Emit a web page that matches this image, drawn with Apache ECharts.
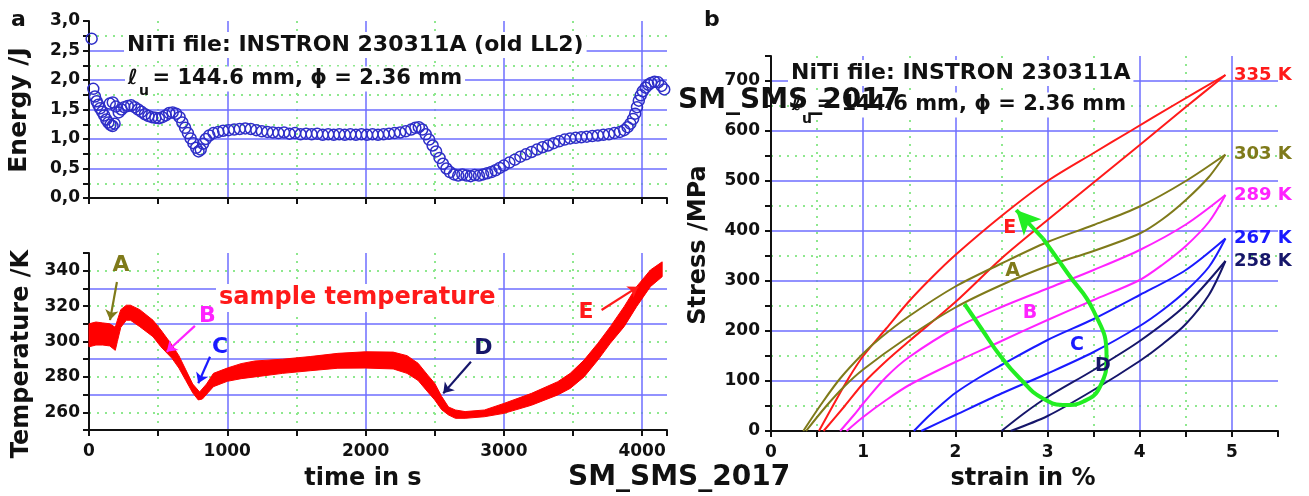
<!DOCTYPE html>
<html>
<head>
<meta charset="utf-8">
<title>NiTi INSTRON 230311A</title>
<script src="https://cdn.jsdelivr.net/npm/echarts@6/dist/echarts.min.js"></script>
<style>
  html, body { margin: 0; padding: 0; background: #fff; }
  #main { width: 1309px; height: 496px; }
</style>
</head>
<body>
<div id="main"></div>
<script type="text/javascript">
// energy per cycle, [time s, energy J]
var energy = [
  [19, 2.70], [31, 1.85], [43, 1.72], [55, 1.64], [67, 1.58], [80, 1.52], [95, 1.46], [110, 1.40],
  [125, 1.33], [140, 1.28], [155, 1.24], [170, 1.22], [185, 1.26], [150, 1.60], [172, 1.62], [195, 1.55],
  [215, 1.45], [235, 1.50], [255, 1.54], [280, 1.56], [305, 1.57], [330, 1.54], [355, 1.50], [380, 1.46],
  [405, 1.42], [430, 1.39], [455, 1.37], [480, 1.36], [505, 1.35], [530, 1.37], [555, 1.40], [580, 1.44],
  [605, 1.45], [630, 1.43], [655, 1.37], [675, 1.28], [695, 1.19], [715, 1.10], [735, 1.01], [755, 0.93],
  [775, 0.85], [792, 0.79], [808, 0.82], [825, 0.92], [845, 1.00], [870, 1.06], [900, 1.10], [935, 1.12],
  [970, 1.14], [1010, 1.15], [1050, 1.16], [1090, 1.17], [1130, 1.18], [1170, 1.17], [1210, 1.15], [1250, 1.13],
  [1290, 1.12], [1330, 1.11], [1370, 1.10], [1410, 1.11], [1450, 1.09], [1490, 1.10], [1530, 1.08], [1570, 1.09],
  [1610, 1.08], [1650, 1.09], [1690, 1.07], [1730, 1.08], [1770, 1.07], [1810, 1.08], [1850, 1.07], [1890, 1.08],
  [1930, 1.07], [1970, 1.08], [2010, 1.07], [2050, 1.08], [2090, 1.07], [2130, 1.08], [2170, 1.09], [2210, 1.10],
  [2250, 1.11], [2290, 1.13], [2330, 1.16], [2360, 1.19], [2385, 1.20], [2410, 1.16], [2435, 1.08], [2460, 0.99],
  [2485, 0.89], [2510, 0.79], [2535, 0.68], [2560, 0.58], [2585, 0.50], [2610, 0.44], [2640, 0.40], [2670, 0.38],
  [2700, 0.40], [2730, 0.38], [2760, 0.37], [2790, 0.39], [2820, 0.38], [2850, 0.40], [2880, 0.42], [2910, 0.44],
  [2940, 0.47], [2970, 0.51], [3000, 0.55], [3040, 0.60], [3080, 0.65], [3120, 0.70], [3160, 0.74], [3200, 0.78],
  [3240, 0.82], [3280, 0.86], [3320, 0.89], [3360, 0.93], [3400, 0.96], [3440, 0.99], [3480, 1.01], [3520, 1.02],
  [3560, 1.03], [3600, 1.04], [3640, 1.05], [3680, 1.06], [3720, 1.07], [3760, 1.08], [3800, 1.10], [3840, 1.12],
  [3870, 1.15], [3895, 1.20], [3915, 1.26], [3935, 1.34], [3950, 1.43], [3963, 1.54], [3976, 1.65], [3990, 1.74],
  [4005, 1.81], [4025, 1.87], [4045, 1.92], [4065, 1.95], [4090, 1.97], [4115, 1.96], [4140, 1.90], [4160, 1.84]
];

// sample temperature band (upper / lower envelope), [time s, K]
var tempUpper = [
  [0, 310], [50, 311], [100, 310.5], [150, 310], [190, 308], [205, 312], [230, 318], [270, 320.5], [300, 320.5],
  [367, 318], [463, 312], [520, 306.5], [600, 298], [650, 292], [700, 284], [750, 276], [800, 271.5], [850, 276],
  [900, 282], [1000, 285], [1100, 287.5], [1200, 289], [1400, 290], [1600, 291.5], [1800, 293.3], [2000, 294.2],
  [2200, 294], [2300, 292], [2380, 287.7], [2450, 281], [2500, 276.4], [2550, 269], [2600, 263], [2650, 261.3],
  [2720, 260.4], [2860, 261.3], [3000, 265], [3200, 270.7], [3390, 277.3], [3480, 282], [3580, 289.5], [3680, 299],
  [3770, 308.4], [3870, 319.7], [3960, 331], [4060, 340.4], [4145, 345]
];
var tempLower = [
  [0, 297], [50, 298], [100, 298], [150, 297.5], [190, 295], [205, 300], [230, 308], [270, 312], [300, 312],
  [367, 308.4], [463, 302.7], [520, 297], [600, 290.5], [650, 285], [700, 278], [750, 271], [790, 267], [820, 267.5],
  [860, 271], [900, 274.5], [1000, 277.5], [1100, 279], [1200, 280], [1400, 282], [1600, 283.5], [1800, 284.9],
  [2000, 285], [2200, 284.5], [2300, 282], [2380, 278], [2450, 271.5], [2500, 267], [2550, 261.5], [2600, 258.5],
  [2650, 256.6], [2720, 256.6], [2860, 257.5], [3000, 259.4], [3200, 264], [3390, 269.8], [3480, 273.5], [3580, 280],
  [3680, 289.5], [3770, 299], [3870, 308.4], [3960, 319.7], [4060, 331], [4145, 336.6]
];

// arrows and letters in the temperature panel
var leftLetters = ['A', 'B', 'C', 'D', 'E'];
var leftLetterPos = [[231, 343.2], [857, 314.1], [947, 296.6], [2852, 296], [3594, 316.4]];
var leftArrows = [
  [[202, 333.6], [152, 312.1]],
  [[766, 308.8], [562, 294.2]],
  [[875, 291.4], [790, 276.4]],
  [[2762, 288.6], [2562, 270.7]],
  [[3707, 317.8], [3972, 331]]
];
var letterColors = ['#7f7a1a', '#ff22ff', '#1a1aff', '#16166a', '#ff1a1a'];

// stress-strain loops, [strain %, stress MPa]
var loopNames = ['335 K', '303 K', '289 K', '267 K', '258 K'];
var loopColors = ['#ff1a1a', '#7f7a1a', '#ff22ff', '#1a1aff', '#16166a'];
var upper335 = [[0.52, 0], [0.7, 60], [0.85, 108], [1.0, 150], [1.25, 205], [1.5, 260], [1.75, 308], [2.0, 352],
  [2.5, 430], [3.0, 500], [3.5, 556], [3.9, 600], [4.4, 655], [4.93, 712]];
var lower335 = [[0.57, 0], [0.8, 50], [1.0, 95], [1.25, 140], [1.5, 180], [2.0, 258], [2.5, 345], [3.0, 422],
  [3.5, 497], [4.0, 572], [4.5, 648], [4.93, 712]];
var upper303 = [[0.35, 0], [0.55, 55], [0.75, 105], [1.0, 155], [1.2, 188], [1.5, 230], [2.0, 289], [2.5, 335],
  [3.0, 378], [3.5, 412], [4.0, 449], [4.5, 500], [4.93, 553]];
var lower303 = [[0.38, 0], [0.6, 50], [0.8, 90], [1.0, 123], [1.44, 182], [2.0, 247], [2.5, 292], [3.0, 330],
  [3.5, 360], [4.0, 395], [4.25, 424], [4.5, 462], [4.75, 508], [4.93, 553]];
var upper289 = [[0.75, 0], [0.9, 32], [1.0, 55], [1.25, 108], [1.5, 148], [2.0, 206], [2.5, 248], [3.0, 285],
  [3.5, 322], [4.0, 362], [4.5, 413], [4.93, 472]];
var lower289 = [[0.82, 0], [1.0, 28], [1.25, 62], [1.5, 92], [2.0, 138], [2.5, 180], [3.0, 222], [3.5, 262],
  [4.0, 302], [4.25, 333], [4.5, 370], [4.75, 418], [4.93, 472]];
var upper267 = [[1.55, 0], [1.7, 28], [1.85, 53], [2.0, 76], [2.25, 106], [2.5, 132], [3.0, 182], [3.5, 224],
  [4.0, 272], [4.5, 322], [4.93, 385]];
var lower267 = [[1.63, 0], [2.0, 32], [2.5, 75], [3.0, 115], [3.5, 158], [4.0, 210], [4.25, 242], [4.5, 280],
  [4.75, 328], [4.93, 385]];
var upper258 = [[2.5, 0], [2.75, 36], [3.0, 68], [3.5, 122], [4.0, 180], [4.5, 252], [4.93, 340]];
var lower258 = [[2.6, 0], [3.0, 30], [3.5, 82], [4.0, 140], [4.25, 174], [4.5, 214], [4.75, 272], [4.93, 340]];
var loops = [[upper335, lower335], [upper303, lower303], [upper289, lower289], [upper267, lower267], [upper258, lower258]];

// green path with arrow
var greenPath = [[2.10, 254], [2.3, 200], [2.48, 152], [2.7, 105], [2.95, 65], [3.21, 52], [3.39, 59], [3.57, 89],
  [3.64, 150], [3.5, 240], [3.22, 315], [2.95, 385]];
var greenArrow = [[2.95, 385], [2.66, 442]];

var rightLetters = ['E', 'A', 'B', 'C', 'D'];
var rightLetterPos = [[2.59, 405], [2.62, 319], [2.81, 235], [3.32, 172], [3.6, 129]];
var rightLetterColors = ['#ff1a1a', '#7f7a1a', '#ff22ff', '#1a1aff', '#16166a'];

var FONT = 'DejaVu Sans';
var GRID_BLUE = '#6e6eff';
var GRID_GREEN = '#8ee88e';

function axisPair(grid, min, max, step, fmt, margin) {
  var main = {
    type: 'value', gridIndex: grid, min: min, max: max, interval: step,
    axisLine: { show: true, onZero: false, lineStyle: { color: '#111', width: 2 } },
    axisTick: { show: true, inside: false, length: 6, lineStyle: { color: '#111', width: 2 } },
    axisLabel: {
      show: !!fmt, formatter: fmt, color: '#111', fontFamily: FONT, fontWeight: 'bold',
      fontSize: 17, margin: margin
    },
    splitLine: {
      show: true, showMinLine: false, showMaxLine: false,
      lineStyle: { color: ['transparent', GRID_BLUE], width: 1.5 }
    },
    z: 1
  };
  var dots = {
    type: 'value', gridIndex: grid, min: min, max: max, interval: step,
    axisLine: { show: false }, axisTick: { show: false }, axisLabel: { show: false },
    splitLine: {
      show: true, showMinLine: false, showMaxLine: false,
      lineStyle: { color: [GRID_GREEN, 'transparent'], width: 2, type: [2, 6] }
    },
    z: 0
  };
  return [main, dots];
}

function fmtTime(v) { return v % 1000 === 0 ? String(v) : ''; }
function fmtEnergy(v) {
  return Math.abs(v * 2 - Math.round(v * 2)) < 1e-6 ? v.toFixed(1).replace('.', ',') : '';
}
function fmtTemp(v) { return (v >= 260 && v <= 340 && (v - 260) % 20 === 0) ? String(v) : ''; }
function fmtStrain(v) { return Math.abs(v - Math.round(v)) < 1e-6 ? String(Math.round(v)) : ''; }
function fmtStress(v) { return (v % 100 === 0) ? String(v) : ''; }

var xAxes = [].concat(
  axisPair(0, 0, 4180, 500, null, 13),
  axisPair(1, 0, 4180, 500, fmtTime, 13),
  axisPair(2, 0, 5.5, 0.5, fmtStrain, 13)
);
var yAxes = [].concat(
  axisPair(0, 0, 3, 0.25, fmtEnergy, 9),
  axisPair(1, 250, 350, 10, fmtTemp, 9),
  axisPair(2, 0, 750, 50, fmtStress, 11)
);

function textLabel(names, pos, colors, size, xi, yi, position, dist) {
  return {
    type: 'scatter', xAxisIndex: xi, yAxisIndex: yi, symbolSize: 1, silent: true, z: 8,
    itemStyle: { color: 'rgba(0,0,0,0)', opacity: 1 },
    label: {
      show: true, position: position, distance: dist, formatter: '{b}', opacity: 1,
      fontFamily: FONT, fontWeight: 'bold', fontSize: size
    },
    data: names.map(function (n, i) {
      return { name: n, value: pos[i], label: { color: colors[i] } };
    })
  };
}

var series = [];

series.push({
  type: 'scatter', xAxisIndex: 0, yAxisIndex: 0, data: energy, symbol: 'circle', symbolSize: 11,
  itemStyle: { color: 'rgba(0,0,0,0)', borderColor: '#2e2ec8', borderWidth: 1.5, opacity: 1 }, z: 3
});

series.push({
  type: 'custom', xAxisIndex: 2, yAxisIndex: 2, data: [[0, 300]], clip: false, z: 3,
  renderItem: function (params, api) {
    var pts = tempUpper.map(function (p) { return api.coord(p); })
      .concat(tempLower.slice().reverse().map(function (p) { return api.coord(p); }));
    return { type: 'polygon', shape: { points: pts }, style: { fill: '#ff0000', stroke: '#ff0000', lineWidth: 1 } };
  }
});

series.push({
  type: 'lines', coordinateSystem: 'cartesian2d', xAxisIndex: 2, yAxisIndex: 2, z: 6,
  symbol: ['none', 'arrow'], symbolSize: 10,
  lineStyle: { opacity: 1, width: 2.2 },
  data: leftArrows.map(function (c, i) {
    return { coords: c, lineStyle: { color: letterColors[i], width: 2.2, opacity: 1 } };
  })
});
series.push(textLabel(leftLetters, leftLetterPos, letterColors, 22, 2, 2, 'inside', 0));

loops.forEach(function (pair, i) {
  pair.forEach(function (branch) {
    series.push({
      type: 'line', xAxisIndex: 4, yAxisIndex: 4, data: branch, smooth: 0.3,
      showSymbol: false, symbol: 'none', z: 4,
      lineStyle: { color: loopColors[i], width: 2 }
    });
  });
});

series.push({
  type: 'line', xAxisIndex: 4, yAxisIndex: 4, data: greenPath, smooth: 0.5, showSymbol: false, symbol: 'none', z: 5,
  lineStyle: { color: '#22ee22', width: 4 },
  markLine: {
    silent: true, symbol: ['none', 'arrow'], symbolSize: [18, 24], label: { show: false },
    lineStyle: { color: '#22ee22', width: 4, type: 'solid' },
    data: [[{ coord: greenArrow[0] }, { coord: greenArrow[1] }]]
  }
});

series.push(textLabel(rightLetters, rightLetterPos, rightLetterColors, 19, 4, 4, 'inside', 0));
series.push(textLabel(loopNames, loops.map(function (p) { return p[0][p[0].length - 1]; }),
  loopColors, 18, 4, 4, 'right', 8));

function gText(x, y, s, size, opt) {
  opt = opt || {};
  return {
    type: 'text', x: x, y: y, z: opt.z || 100, rotation: opt.rotation || 0,
    style: {
      text: s, fontFamily: FONT, fontWeight: opt.weight || 'bold', fontSize: size,
      fill: opt.color || '#111', align: opt.align || 'left', verticalAlign: 'middle',
      backgroundColor: opt.bg, padding: opt.bg ? [2, 3] : 0
    }
  };
}

var graphics = [
  gText(11, 20, 'a', 22),
  gText(704, 20, 'b', 22),
  gText(124, 45, 'NiTi file: INSTRON 230311A (old LL2)', 22, { bg: '#fff' }),
  gText(125, 79, 'ℓ  = 144.6 mm, ϕ = 2.36 mm', 21, { bg: '#fff' }),
  gText(139, 91, 'u', 14, { z: 101 }),
  gText(788, 73, 'NiTi file: INSTRON 230311A', 22, { bg: '#fff' }),
  gText(789, 105, 'ℓ  = 144.6 mm, ϕ = 2.36 mm', 21, { bg: '#fff' }),
  gText(802, 119, 'u', 14, { z: 101 }),
  gText(216, 298, 'sample temperature', 24, { color: '#ff1a1a', bg: '#fff' }),
  gText(19, 110, 'Energy /J', 25, { align: 'center', rotation: Math.PI / 2 }),
  gText(22, 354, 'Temperature /K', 24, { align: 'center', rotation: Math.PI / 2 }),
  gText(699, 245, 'Stress /MPa', 24, { align: 'center', rotation: Math.PI / 2 }),
  gText(363, 479, 'time in s', 24, { align: 'center' }),
  gText(1023, 479, 'strain in %', 24, { align: 'center' }),
  gText(678, 101, 'SM_SMS_2017', 28, { z: 110 }),
  gText(568, 478, 'SM_SMS_2017', 28, { z: 110 })
];

var chart = echarts.init(document.getElementById('main'));
chart.setOption({
  animation: false,
  backgroundColor: '#fff',
  grid: [
    { left: 89, top: 21, width: 578, height: 177, outerBoundsMode: 'none' },
    { left: 89, top: 253, width: 578, height: 177, outerBoundsMode: 'none' },
    { left: 771, top: 56, width: 507, height: 375, outerBoundsMode: 'none' }
  ],
  xAxis: xAxes,
  yAxis: yAxes,
  series: series,
  graphic: graphics
});
</script>
</body>
</html>
